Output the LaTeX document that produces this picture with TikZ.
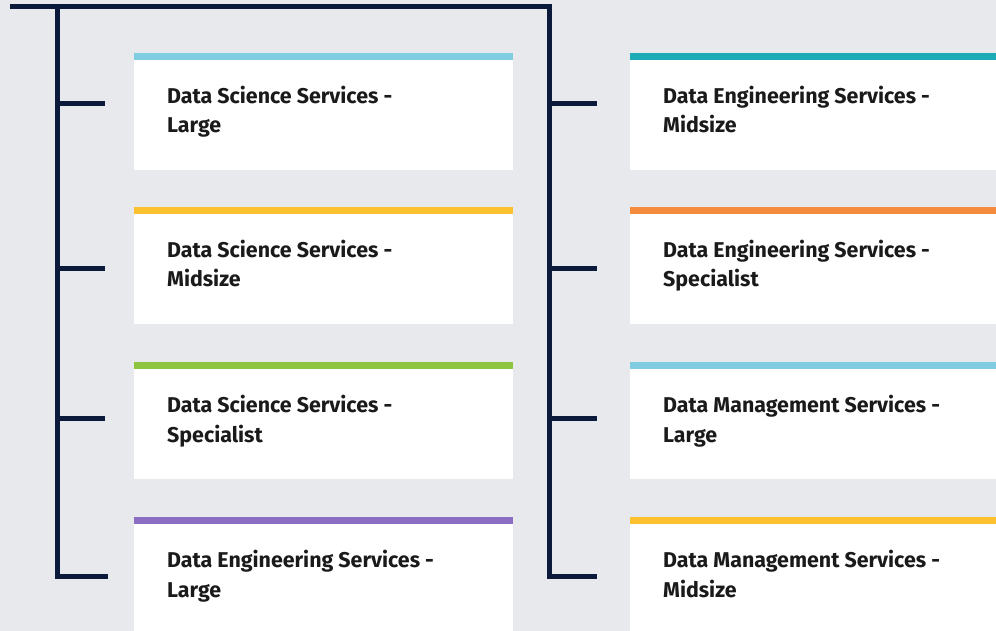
\documentclass[tikz,border=0pt]{standalone}
\usepackage{fontspec}
\setmainfont{Fira Sans}
\definecolor{bgc}{HTML}{E8E9ED}
\definecolor{navy}{HTML}{0B1A3B}
\definecolor{txt}{HTML}{1A1A1A}
\definecolor{cblue}{HTML}{80CDE2}
\definecolor{cyellow}{HTML}{FCC12E}
\definecolor{cgreen}{HTML}{8DC540}
\definecolor{cpurple}{HTML}{8B6DC3}
\definecolor{cteal}{HTML}{1DABB6}
\definecolor{corange}{HTML}{F58B3E}
\tikzset{
  treeline/.style={draw=navy, line width=5pt, line join=miter},
  cardbox/.style={fill=white, draw=none, anchor=north west, minimum height=110pt, inner sep=0pt, outer sep=0pt},
  cardbar/.style={fill=#1, draw=none, anchor=south west, minimum height=7pt, inner sep=0pt, outer sep=0pt},
  cardtext/.style={anchor=base west, inner sep=0pt, align=left, text=txt,
    font=\fontsize{21.4pt}{29.5pt}\selectfont\bfseries},
}
\begin{document}
\begin{tikzpicture}[x=1pt, y=-1pt]
\fill[bgc] (0,0) rectangle (996,631);
\useasboundingbox (0,0) rectangle (996,631);
% left cards
\foreach \n/\y/\c/\a/\b in {L1/60/cblue/Data Science Services -/Large,
  L2/214/cyellow/Data Science Services -/Midsize,
  L3/369/cgreen/Data Science Services -/Specialist,
  L4/524/cpurple/Data Engineering Services -/Large}{
  \node[cardbox, minimum width=379pt] (\n) at (134,\y) {};
  \node[cardbar=\c, minimum width=379pt] (\n bar) at (134,\y) {};
  \node[cardtext] (\n txt) at (167,\y+73) {\a\\\b};
}
% right cards
\foreach \n/\y/\c/\a/\b in {R1/60/cteal/Data Engineering Services -/Midsize,
  R2/214/corange/Data Engineering Services -/Specialist,
  R3/369/cblue/Data Management Services -/Large,
  R4/524/cyellow/Data Management Services -/Midsize}{
  \node[cardbox, minimum width=366pt] (\n) at (630,\y) {};
  \node[cardbar=\c, minimum width=366pt] (\n bar) at (630,\y) {};
  \node[cardtext] (\n txt) at (663,\y+73) {\a\\\b};
}
% tree
\coordinate (start) at (10,7);
\coordinate (tl) at (57,7);
\coordinate (tr) at (549,7);
\foreach \y [count=\i] in {104,268,418}{
  \coordinate (lt\i) at (105,\y);
  \coordinate (rt\i) at (597,\y);
  \draw[treeline] (57,\y) -- (lt\i);
  \draw[treeline] (549,\y) -- (rt\i);
}
\coordinate (lt4) at (108,576);
\coordinate (rt4) at (597,576);
\draw[treeline] (start) -- (tr) |- (rt4);
\draw[treeline] (tl) |- (lt4);
\end{tikzpicture}
\end{document}
